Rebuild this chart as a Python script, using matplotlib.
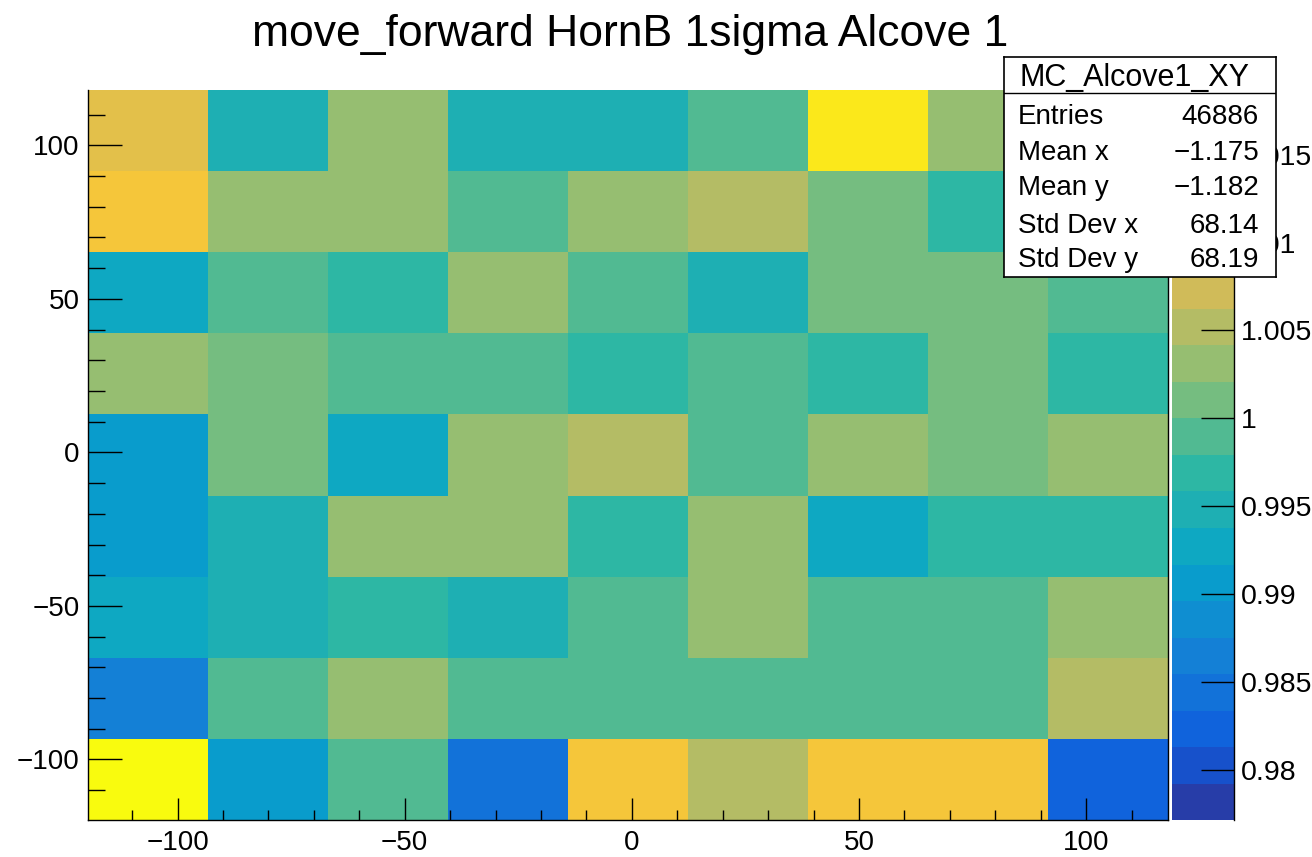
import numpy as np
import matplotlib
matplotlib.use('Agg')
import matplotlib.pyplot as plt
from matplotlib.colors import LinearSegmentedColormap, ListedColormap, BoundaryNorm
from matplotlib.ticker import MultipleLocator

plt.rcParams['font.family'] = ['Liberation Sans', 'DejaVu Sans']

# histogram definition (9x9 bins)
x_lo, x_hi = -119.7, 118.0
y_lo, y_hi = -119.7, 118.0
n_bins = 9

# bin contents, rows from top (y ~ +105) to bottom (y ~ -106)
row1 = [1.0093, 0.9948, 1.0031, 0.9948, 0.9948, 0.9990, 1.0156, 1.0031, 1.0031]
row2 = [1.0114, 1.0031, 1.0031, 0.9990, 1.0031, 1.0052, 1.0010, 0.9969, 1.0010]
row3 = [0.9927, 0.9990, 0.9969, 1.0031, 0.9990, 0.9948, 1.0010, 1.0010, 0.9990]
row4 = [1.0031, 1.0010, 0.9990, 0.9990, 0.9969, 0.9990, 0.9969, 1.0010, 0.9969]
row5 = [0.9906, 1.0010, 0.9927, 1.0031, 1.0052, 0.9990, 1.0031, 1.0010, 1.0031]
row6 = [0.9906, 0.9948, 1.0031, 1.0031, 0.9969, 1.0031, 0.9927, 0.9969, 0.9969]
row7 = [0.9927, 0.9948, 0.9969, 0.9948, 0.9990, 1.0031, 0.9990, 0.9990, 1.0031]
row8 = [0.9865, 0.9990, 1.0031, 0.9990, 0.9990, 0.9990, 0.9990, 0.9990, 1.0052]
row9 = [1.0176, 0.9906, 0.9990, 0.9844, 1.0114, 1.0052, 1.0114, 1.0114, 0.9823]

z_min, z_max = 0.97715, 1.01868
n_contours = 20
cbar_ticks = [0.98, 0.985, 0.99, 0.995, 1.0, 1.005, 1.01, 1.015]

title = 'move_forward HornB 1sigma Alcove 1'
stats_name = 'MC_Alcove1_XY'
stats_labels = ['Entries', 'Mean x', 'Mean y', 'Std Dev x', 'Std Dev y']
stats_values = ['46886', '\u22121.175', '\u22121.182', '68.14', '68.19']

# ROOT kBird palette
stops = [0.0, 0.125, 0.25, 0.375, 0.5, 0.625, 0.75, 0.875, 1.0]
red = [0.2082, 0.0592, 0.0780, 0.0232, 0.1802, 0.5301, 0.8186, 0.9956, 0.9764]
green = [0.1664, 0.3599, 0.5041, 0.6419, 0.7178, 0.7492, 0.7328, 0.7862, 0.9832]
blue = [0.5293, 0.8684, 0.8385, 0.7914, 0.6425, 0.4662, 0.3499, 0.1968, 0.0539]
bird = LinearSegmentedColormap.from_list(
    'bird', list(zip(stops, zip(red, green, blue))))
cmap = ListedColormap([bird((i + 0.99) / n_contours) for i in range(n_contours)])
levels = np.linspace(z_min, z_max, n_contours + 1)
norm = BoundaryNorm(levels, cmap.N)

z = np.array([row1, row2, row3, row4, row5, row6, row7, row8, row9])[::-1]
xe = np.linspace(x_lo, x_hi, n_bins + 1)
ye = np.linspace(y_lo, y_hi, n_bins + 1)

W, H = 1312, 857
fig = plt.figure(figsize=(W / 100, H / 100), dpi=100)
ax = fig.add_axes([88 / W, 1 - 820 / H, 1080 / W, 730 / H])
mesh = ax.pcolormesh(xe, ye, z, cmap=cmap, norm=norm)
ax.set_xlim(x_lo, x_hi)
ax.set_ylim(y_lo, y_hi)
ax.xaxis.set_major_locator(MultipleLocator(50))
ax.xaxis.set_minor_locator(MultipleLocator(10))
ax.yaxis.set_major_locator(MultipleLocator(50))
ax.yaxis.set_minor_locator(MultipleLocator(10))
ax.tick_params(axis='x', which='major', direction='in', length=15.5, width=1, labelsize=20, pad=7)
ax.tick_params(axis='x', which='minor', direction='in', length=7.5, width=1)
ax.tick_params(axis='y', which='major', direction='in', length=24.2, width=1, labelsize=20, pad=6)
ax.tick_params(axis='y', which='minor', direction='in', length=12, width=1)
ax.spines['top'].set_visible(False)
for s in ['left', 'bottom', 'right']:
    ax.spines[s].set_linewidth(1)

# palette axis
cax = fig.add_axes([1172 / W, 1 - 820 / H, 62 / W, 730 / H])
cbar = fig.colorbar(mesh, cax=cax)
cbar.outline.set_visible(False)
cbar.minorticks_off()
cbar.set_ticks(cbar_ticks)
cbar.set_ticklabels(['%g' % t for t in cbar_ticks])
cax.tick_params(direction='in', length=23.8, width=1, labelsize=20.5, pad=5)
cax.plot([1, 1], [0, 1], transform=cax.transAxes, color='black', lw=1, clip_on=False)

fig.text(630 / W, 1 - 46 / H, title, ha='center', va='baseline', fontsize=32)

# stats box (pixel layout relative to figure top)
bx0, bx1, by0, by1 = 1004, 1276, 57, 277
sax = fig.add_axes([bx0 / W, 1 - by1 / H, (bx1 - bx0) / W, (by1 - by0) / H], zorder=10)
sax.set_xlim(bx0, bx1)
sax.set_ylim(by1, by0)
sax.set_xticks([])
sax.set_yticks([])
sax.set_facecolor('white')
for s in sax.spines.values():
    s.set_linewidth(1.2)
sax.axhline(93, color='black', lw=1)
sax.text(1134, 86, stats_name, ha='center', va='baseline', fontsize=22)
baselines = [124, 160, 195, 233, 267]
for yb, lab, val in zip(baselines, stats_labels, stats_values):
    sax.text(1018, yb, lab, ha='left', va='baseline', fontsize=20)
    sax.text(1259, yb, val, ha='right', va='baseline', fontsize=20)

fig.savefig('out.png', dpi=100)
